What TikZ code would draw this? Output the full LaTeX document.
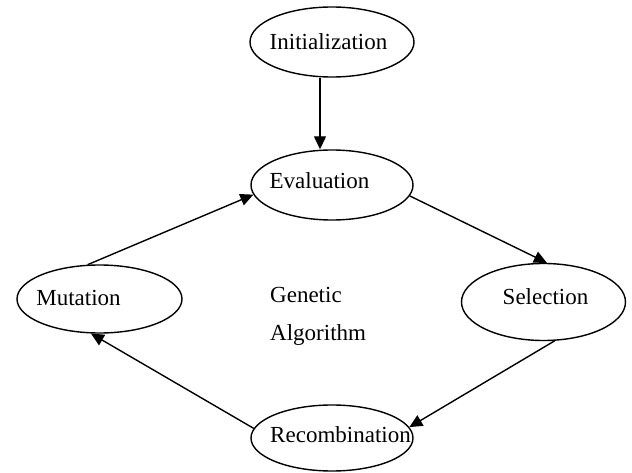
\documentclass[tikz,border=0pt]{standalone}
\usepackage{fontspec}
\setmainfont{Liberation Serif}
\usetikzlibrary{shapes.geometric,arrows.meta,calc}

\tikzset{
  stage/.style={ellipse, draw, line width=1.4pt, inner sep=0pt},
  stagetext/.style={anchor=base, inner sep=0pt, font=\fontsize{23}{27}\selectfont},
  flow/.style={line width=1.4pt, -{Triangle[length=13pt,width=12pt]}}
}

\begin{document}
\begin{tikzpicture}[x=1pt,y=1pt]
  \useasboundingbox (0,0) rectangle (632,472);

  % stages of the cycle
  \node[stage, minimum width=164pt, minimum height=70pt] (init) at (332,430) {};
  \node[stage, minimum width=162pt, minimum height=70pt] (eval) at (332,287) {};
  \node[stage, minimum width=165pt, minimum height=68pt] (mut)  at (99.5,173) {};
  \node[stage, minimum width=164pt, minimum height=77pt] (sel)  at (543.5,170) {};
  \node[stage, minimum width=162pt, minimum height=66pt] (rec)  at (332,34) {};

  % stage names
  \node[stagetext] (initT) at (328.5,422) {Initialization};
  \node[stagetext] (evalT) at (319.5,283) {Evaluation};
  \node[stagetext] (mutT)  at (78.5,167)  {Mutation};
  \node[stagetext] (selT)  at (545.5,168) {Selection};
  \node[stagetext] (recT)  at (340.5,30)  {Recombination};

  % centre caption
  \node[stagetext, anchor=base west] (gen) at (270,170) {Genetic};
  \node[stagetext, anchor=base west] (alg) at (270,132) {Algorithm};

  % connectors
  \coordinate (initOut) at ($(init.south)+(-12,0)$);
  \coordinate (evalIn)  at ($(eval.north)+(-12,0)$);
  \draw[flow] (initOut) -- (evalIn);
  \draw[flow] (eval.-8)   -- (sel.85);
  \draw[flow] (sel.-74)   -- (rec.8);
  \draw[flow] (rec.173)   -- (mut.-104);
  \draw[flow] (mut.109)   -- (eval.-173);
\end{tikzpicture}
\end{document}
